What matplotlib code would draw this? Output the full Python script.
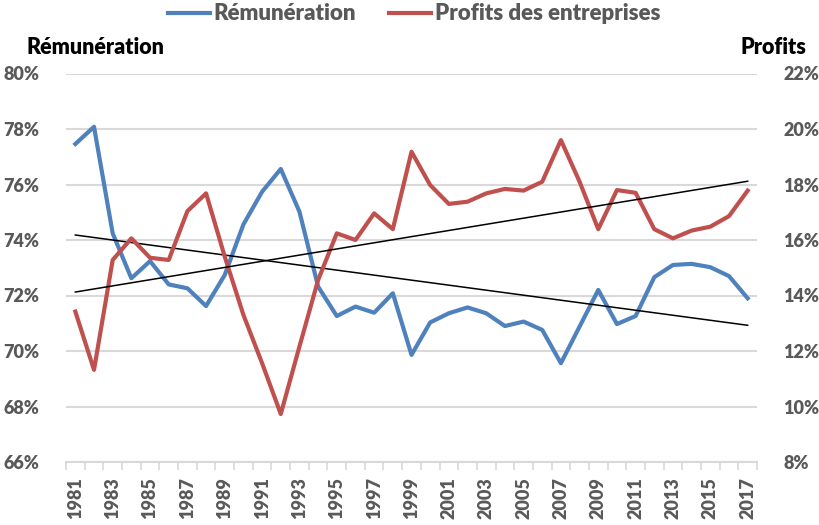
import numpy as np
import matplotlib
matplotlib.use("Agg")
import matplotlib.pyplot as plt
from matplotlib.ticker import FixedLocator, FuncFormatter

plt.rcParams['font.family'] = ['Lato', 'DejaVu Sans']
plt.rcParams['font.weight'] = 'heavy'

# data
years = list(range(1981, 2018))
remuneration = [77.46, 78.08, 74.24, 72.62, 73.24, 72.40, 72.26, 71.62, 72.74, 74.56,
                75.74, 76.56, 75.02, 72.32, 71.26, 71.60, 71.38, 72.08, 69.86, 71.03,
                71.36, 71.57, 71.36, 70.90, 71.06, 70.76, 69.56, 70.88, 72.20, 70.97,
                71.26, 72.66, 73.10, 73.14, 73.02, 72.70, 71.90]
profits = [13.42, 11.32, 15.28, 16.06, 15.36, 15.28, 17.04, 17.68, 15.40, 13.30,
           11.56, 9.73, 12.16, 14.56, 16.24, 16.00, 16.96, 16.39, 19.18, 17.98,
           17.30, 17.38, 17.68, 17.84, 17.78, 18.10, 19.60, 18.10, 16.39, 17.80,
           17.70, 16.39, 16.06, 16.34, 16.48, 16.86, 17.78]
label_years = years[::2]

blue = '#4F81BD'
red = '#C0504D'
grey_txt = '#595959'
grid_c = '#D9D9D9'

fig = plt.figure(figsize=(8.19, 5.25), dpi=100)
ax = fig.add_axes([66/819, 1-462/525, (757-66)/819, (462-73.5)/525])
ax2 = ax.twinx()

x = np.array(years)
l1, = ax.plot(x, remuneration, color=blue, lw=3.0, solid_joinstyle='round', zorder=3)
l2, = ax2.plot(x, profits, color=red, lw=3.0, solid_joinstyle='round', zorder=3)

# linear trends
c1 = np.polyfit(x, remuneration, 1)
c2 = np.polyfit(x, profits, 1)
ax.plot(x, np.polyval(c1, x), color='black', lw=1.1, zorder=4)
ax2.plot(x, np.polyval(c2, x), color='black', lw=1.1, zorder=4)

ax.set_xlim(1980.5, 2017.5)
ax.set_ylim(66, 80)
ax2.set_ylim(8, 22)
ax.set_yticks(range(66, 81, 2))
ax2.set_yticks(range(8, 23, 2))
pct = FuncFormatter(lambda v, p: f"{v:.0f}%")
ax.yaxis.set_major_formatter(pct)
ax2.yaxis.set_major_formatter(pct)

ax.yaxis.grid(True, color=grid_c, lw=1.5)
ax.set_axisbelow(True)
for s in ['top', 'left', 'right']:
    ax.spines[s].set_visible(False)
    ax2.spines[s].set_visible(False)
ax2.spines['bottom'].set_visible(False)
ax.spines['bottom'].set_color(grid_c)
ax.spines['bottom'].set_linewidth(1.5)

ax.set_xticks(label_years)
ax.set_xticklabels([str(y) for y in label_years], rotation=90)
ax.xaxis.set_minor_locator(FixedLocator(np.arange(1980.5, 2018, 1)))
ax.tick_params(axis='x', which='major', length=0, pad=11, labelsize=13, labelcolor=grey_txt)
ax.tick_params(axis='x', which='minor', length=6, width=1.2, color=grid_c)
ax.tick_params(axis='y', length=0, pad=19, labelsize=13, labelcolor=grey_txt)
ax2.tick_params(axis='y', length=0, pad=19, labelsize=13, labelcolor=grey_txt)

fig.text(27/819, 1-48/525, 'Rémunération', fontsize=15.5, fontweight='heavy', va='center', ha='left')
fig.text(806/819, 1-48/525, 'Profits', fontsize=15.5, fontweight='heavy', va='center', ha='right')

fig.legend([l1, l2], ['Rémunération', 'Profits des entreprises'], loc='center',
           bbox_to_anchor=(414/819, 1-14/525), ncol=2, frameon=False,
           prop={'size': 16, 'weight': 'heavy'}, labelcolor=grey_txt,
           handlelength=1.9, handletextpad=0.15, columnspacing=1.5,
           borderpad=0, borderaxespad=0)

fig.savefig('out.png', dpi=100)
